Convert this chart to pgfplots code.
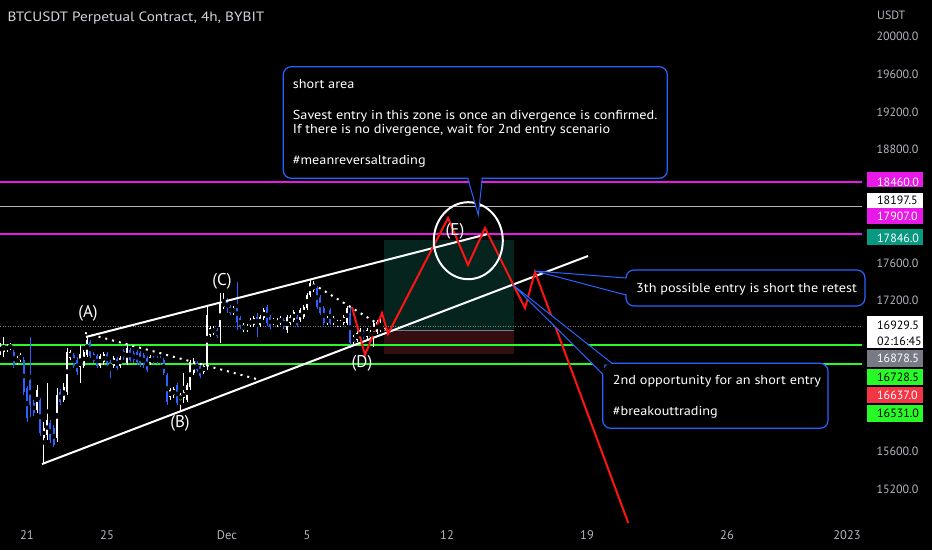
\documentclass[border=0pt]{standalone}
\usepackage{pgfplots}
\pgfplotsset{compat=1.18}
\usepackage{pgfplotstable}
\usepackage{fontspec}
\setmainfont{PT Sans}
\newfontfamily\cfont{PT Sans}[FakeStretch=1.095]
\newfontfamily\tfont{PT Sans}[FakeStretch=1.13]
\definecolor{tvblue}{RGB}{41,98,255}
\definecolor{candleblue}{RGB}{41,98,255}
\definecolor{mag}{RGB}{232,24,232}
\definecolor{limeg}{RGB}{40,250,40}
\definecolor{teal}{RGB}{8,153,129}
\definecolor{tvred}{RGB}{242,54,69}
\definecolor{tvgray}{RGB}{120,123,134}
\definecolor{tickgray}{RGB}{178,181,190}
\definecolor{titlegray}{RGB}{209,212,220}
\definecolor{posgreen}{RGB}{6,36,30}
\definecolor{posred}{RGB}{52,13,16}
\definecolor{redline}{RGB}{255,20,20}

\pgfplotstableread{
x o h l c
-1.333 16644 16750 16623 16729
-1.167 16655 16814 16602 16729
-1.000 16676 16740 16655 16718
-0.833 16697 16750 16676 16729
-0.500 16538 16612 16517 16591
-0.333 16570 16644 16549 16623
0.500 16039 16305 16008 16252
0.833 15742 15912 15477 15848
1.000 15774 16326 15721 15933
1.500 15742 16273 15700 16198
1.833 16145 16326 16124 16283
2.000 16230 16697 16198 16655
2.167 16591 16676 16570 16655
2.667 16496 16729 16326 16633
2.833 16506 16676 16485 16655
3.000 16623 16824 16602 16782
3.667 16506 16633 16485 16612
3.833 16549 16655 16517 16633
4.333 16506 16612 16485 16591
4.667 16506 16612 16485 16591
5.000 16538 16729 16517 16697
6.167 16538 16623 16517 16602
7.167 16177 16273 16145 16252
7.333 16198 16283 16167 16262
7.833 16167 16432 16114 16230
8.000 16145 16326 16124 16305
8.167 16283 16570 16252 16549
8.333 16432 16591 16411 16549
8.833 16443 16528 16421 16506
9.000 16506 17143 16464 17047
9.167 16835 16930 16814 16909
9.333 16856 16930 16835 16909
9.667 16920 17281 16750 17164
9.833 17132 17281 17111 17185
10.333 17068 17143 17047 17121
11.167 16941 17015 16920 16994
11.333 16941 17037 16920 17015
11.667 16941 17047 16920 17026
11.833 17015 17121 16994 17100
12.333 16962 17015 16941 16994
12.500 16941 17015 16920 16994
12.667 16962 17037 16941 17015
13.000 16888 17047 16856 17026
13.167 16962 17047 16941 17026
13.333 16994 17100 16973 17079
13.667 16994 17121 16973 17100
13.833 17026 17153 17005 17132
14.000 17121 17281 17100 17259
14.167 17259 17419 17238 17387
14.333 17313 17408 17291 17366
15.000 16962 17037 16941 17015
15.333 16962 17037 16941 17015
15.833 16962 17047 16941 17026
16.000 16962 17143 16941 17121
16.333 16761 16835 16740 16814
16.500 16782 16877 16761 16856
16.667 16803 16909 16782 16888
17.000 16814 16909 16793 16888
17.167 16814 16888 16793 16867
17.333 16835 16984 16708 16962
17.500 16867 16994 16846 16973
17.667 16888 17015 16867 16930
}\upC

\pgfplotstableread{
x o h l c
-0.667 16655 16676 16485 16517
-0.167 16570 16602 16198 16230
0.000 16273 16294 15912 15954
0.167 16358 16814 15965 16092
0.333 16114 16145 15976 16008
0.667 16145 16167 15764 15795
1.167 15901 15933 15689 15721
1.333 15848 15880 15647 15668
1.667 16230 16262 16092 16124
2.333 16623 16644 16485 16506
2.500 16570 16602 16411 16443
3.167 16761 16782 16591 16612
3.333 16633 16655 16538 16559
3.500 16612 16633 16485 16506
4.000 16633 16655 16506 16538
4.167 16549 16570 16379 16464
4.500 16580 16602 16464 16485
4.833 16665 16686 16570 16602
5.167 16676 16697 16549 16570
5.333 16644 16665 16538 16570
5.500 16655 16676 16517 16549
5.667 16644 16665 16496 16517
5.833 16623 16644 16485 16517
6.000 16591 16612 16443 16464
6.333 16591 16612 16528 16549
6.500 16591 16612 16528 16549
6.667 16591 16612 16517 16549
6.833 16570 16591 16411 16432
7.000 16411 16432 16092 16124
7.500 16305 16326 16092 16114
8.500 16538 16559 16443 16464
8.667 16506 16528 16379 16400
9.500 16888 16909 16803 16824
10.000 17185 17228 17068 17121
10.167 17132 17153 17047 17068
10.500 17153 17397 16888 16973
10.667 17015 17037 16899 16920
11.500 17026 17068 16814 16941
12.000 17132 17153 16930 16962
12.167 17026 17047 16899 16920
12.833 16994 17015 16899 16920
13.500 17026 17047 16920 16941
14.500 17334 17355 17111 17132
14.667 17238 17259 17047 17068
14.833 17121 17143 16941 16962
15.167 17100 17121 16941 16962
16.167 17068 17132 16697 16750
16.833 16867 16888 16793 16814
}\dnC

\pgfplotstableread{
x o h l c
7.667 16145 16220 16018 16198
10.833 16941 16962 16867 16888
11.000 16930 16952 16867 16888
15.500 16941 16994 16920 16973
15.667 16941 16994 16920 16973
}\grC

\begin{document}
\begin{tikzpicture}
\useasboundingbox (0,0) rectangle (932pt,550pt);
\fill[black] (0,0) rectangle (932pt,550pt);
\begin{axis}[
  at={(0pt,28pt)}, anchor=south west,
  scale only axis, width=862pt, height=522pt,
  xmin=-1.35, xmax=41.75, ymin=14851, ymax=20389,
  axis line style={draw=none},
  major tick length=0pt,
  /pgf/number format/assume math mode=true,
  ytick={15200,15600,17200,17600,18800,19200,19600,20000},
  yticklabel pos=right,
  scaled y ticks=false,
  yticklabel style={anchor=west, xshift=11pt, text=tickgray,
    font=\fontsize{12}{14}\selectfont,
    /pgf/number format/fixed, /pgf/number format/fixed zerofill,
    /pgf/number format/precision=1, /pgf/number format/1000 sep={}},
  xtick={0,4,10,14,21,28,35,41},
  xticklabels={21,25,Dec,5,12,19,26,2023},
  xticklabel style={yshift=-5pt, text=tickgray, font=\fontsize{12.5}{14}\selectfont},
  clip=true,
]
% position tool
\addplot[draw=none, fill=posgreen] coordinates {(17.87,16878.5) (24.35,16878.5) (24.35,17846) (17.87,17846)} -- cycle;
\addplot[draw=none, fill=posred] coordinates {(17.87,16637) (24.35,16637) (24.35,16878.5) (17.87,16878.5)} -- cycle;
\addplot[tvgray, line width=1pt] coordinates {(17.87,16878.5) (24.35,16878.5)};
% horizontal levels
\addplot[mag, line width=2pt] coordinates {(-1.35,18460) (41.75,18460)};
\addplot[mag, line width=2pt] coordinates {(-1.35,17907) (41.75,17907)};
\addplot[tickgray, line width=1pt] coordinates {(-1.35,18197.5) (41.75,18197.5)};
\addplot[limeg, line width=2pt] coordinates {(-1.35,16728.5) (41.75,16728.5)};
\addplot[limeg, line width=2pt] coordinates {(-1.35,16531) (41.75,16531)};
\addplot[tvgray, line width=0.8pt, dash pattern=on 1pt off 1.5pt] coordinates {(-1.35,16929.5) (41.75,16929.5)};
% candles: wicks
\addplot[only marks, mark=none, error bars/.cd, y dir=both, y explicit, error mark=none,
  error bar style={line width=1pt, draw=white}]
  table[x=x, y expr=(\thisrow{h}+\thisrow{l})/2, y error expr=(\thisrow{h}-\thisrow{l})/2] {\upC};
\addplot[only marks, mark=none, error bars/.cd, y dir=both, y explicit, error mark=none,
  error bar style={line width=1pt, draw=candleblue}]
  table[x=x, y expr=(\thisrow{h}+\thisrow{l})/2, y error expr=(\thisrow{h}-\thisrow{l})/2] {\dnC};
\addplot[only marks, mark=none, error bars/.cd, y dir=both, y explicit, error mark=none,
  error bar style={line width=1pt, draw=white}]
  table[x=x, y expr=(\thisrow{h}+\thisrow{l})/2, y error expr=(\thisrow{h}-\thisrow{l})/2] {\grC};
% candles: bodies
\addplot[only marks, mark=none, error bars/.cd, y dir=both, y explicit, error mark=none,
  error bar style={line width=2.3pt, draw=white}]
  table[x=x, y expr=(\thisrow{o}+\thisrow{c})/2, y error expr={max(abs(\thisrow{c}-\thisrow{o})/2,6)}] {\upC};
\addplot[only marks, mark=none, error bars/.cd, y dir=both, y explicit, error mark=none,
  error bar style={line width=2.3pt, draw=candleblue}]
  table[x=x, y expr=(\thisrow{o}+\thisrow{c})/2, y error expr={max(abs(\thisrow{c}-\thisrow{o})/2,6)}] {\dnC};
\addplot[only marks, mark=none, error bars/.cd, y dir=both, y explicit, error mark=none,
  error bar style={line width=3.5pt, draw=limeg}]
  table[x=x, y expr=(\thisrow{o}+\thisrow{c})/2, y error expr={max(abs(\thisrow{c}-\thisrow{o})/2,12)}] {\grC};
% trend lines
\addplot[white, line width=2pt] coordinates {(2.95,16814) (23.05,17907)};
\addplot[white, line width=2pt] coordinates {(0.75,15466) (28.05,17673)};
\addplot[white, line width=2pt, dash pattern=on 2pt off 5pt] coordinates {(2.9,16856) (11.65,16358)};
\addplot[white, line width=2pt, dash pattern=on 2pt off 5pt] coordinates {(14.3,17376) (18.05,16888)};
% projected path
\addplot[redline, line width=2pt] coordinates {(16.25,17132) (16.9,16623) (17.75,17068) (18.05,16846) (21.05,18076) (22.05,17578) (22.9,17970) (24.9,17121) (25.4,17504) (30.1,14819)};
\end{axis}

\begin{scope}[shift={(0,550pt)}, x=1pt, y=-1pt]
% circle
\draw[white, line width=2pt] (468.3,240.7) ellipse [x radius=34.5pt, y radius=38.5pt];
% wave labels
\foreach \t/\xx/\yy in {(A)/88/313,(B)/180/423,(C)/222/281,(D)/362/363,(E)/455/231}
  \node[text=white, font=\fontsize{17}{19}\selectfont, inner sep=0] at (\xx,\yy) {\t};
% title
\node[anchor=base west, inner sep=0, text=titlegray, font=\tfont\fontsize{13.5}{15}\selectfont] at (7.3,22) {BTCUSDT Perpetual Contract, 4h, BYBIT};
\node[anchor=base west, inner sep=0, text=tickgray, font=\fontsize{12}{14}\selectfont] at (877,19.3) {USDT};

% callout a
\draw[tvblue, line width=1.2pt, fill=black, rounded corners=8pt] (283.3,66.7) rectangle (667.3,178.3);
\fill[black] (468.2,177) -- (478.3,214.5) -- (481.8,177) -- cycle;
\draw[tvblue, line width=1pt] (467.7,178.3) -- (478.3,215) -- (482.3,178.3);
\begin{scope}[every node/.style={anchor=base west, inner sep=0, text=white, font=\cfont\fontsize{13}{15}\selectfont}]
\node at (292.7,89) {short area};
\node at (292.7,119.3) {Savest entry in this zone is once an divergence is confirmed.};
\node at (292.7,134) {If there is no divergence, wait for 2nd entry scenario};
\node at (292.7,164.3) {\#meanreversaltrading};
\end{scope}

% callout b
\draw[tvblue, line width=1.2pt, fill=black, rounded corners=8pt] (626,270) rectangle (865,306);
\fill[black] (627.5,278.5) -- (535,271) -- (627.5,294.5) -- cycle;
\draw[tvblue, line width=1pt] (626,278) -- (535,271) -- (626,295);
\node[anchor=base west, inner sep=0, text=white, font=\cfont\fontsize{13}{15}\selectfont] at (636,292.3) {3th possible entry is short the retest};

% callout c
\draw[tvblue, line width=1.2pt, fill=black, rounded corners=8pt] (602.7,363.3) rectangle (828,428.3);
\fill[black] (612.5,364.5) -- (513,285) -- (603.9,374.5) -- (603.9,364.5) -- cycle;
\draw[tvblue, line width=1pt] (612,363.3) -- (513,285) -- (602.7,374);
\node[anchor=base west, inner sep=0, text=white, font=\cfont\fontsize{13}{15}\selectfont] at (612.7,384) {2nd opportunity for an short entry};
\node[anchor=base west, inner sep=0, text=white, font=\cfont\fontsize{13}{15}\selectfont] at (612.7,415) {\#breakouttrading};

% price labels
\begin{scope}[every node/.style={anchor=base west, inner sep=0, font=\fontsize{12}{14}\selectfont}]
\fill[mag] (866.7,171.7) rectangle (923,187.5);
\node[text=white] at (877,186.2) {18460.0};
\fill[white] (866.7,192.7) rectangle (923,208);
\node[text=black] at (877,204.5) {18197.5};
\fill[mag] (866.7,208) rectangle (923,224);
\node[text=white] at (877,220.5) {17907.0};
\fill[teal] (866.7,229.3) rectangle (923,245);
\node[text=white] at (877,242.2) {17846.0};
\fill[white] (866.7,316) rectangle (923,347.5);
\node[text=black] at (877,329.5) {16929.5};
\node[text=black] at (877,345.3) {02:16:45};
\fill[tvgray] (866.7,350.3) rectangle (923,366.5);
\node[text=white] at (877,362.8) {16878.5};
\fill[limeg] (866.7,368.5) rectangle (923,385);
\node[text=black] at (877,381.5) {16728.5};
\fill[tvred] (866.7,386.7) rectangle (923,403);
\node[text=white] at (877,399.5) {16637.0};
\fill[limeg] (866.7,405) rectangle (923,421.5);
\node[text=black] at (877,417.8) {16531.0};
\end{scope}
\end{scope}
\end{tikzpicture}
\end{document}
